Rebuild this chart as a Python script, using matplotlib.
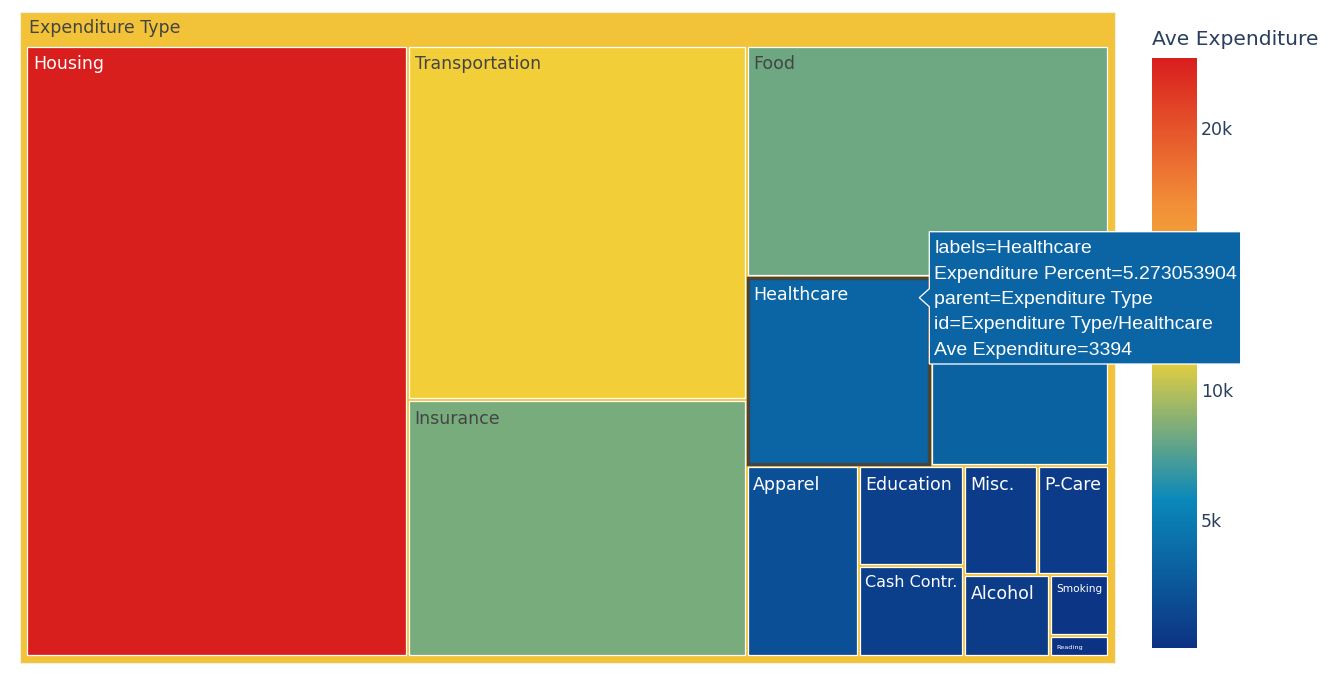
import matplotlib
matplotlib.use("Agg")
import matplotlib.pyplot as plt
from matplotlib.colors import LinearSegmentedColormap, Normalize
from matplotlib.patches import Rectangle, Polygon
from matplotlib.cm import ScalarMappable

# ---------------- data ----------------
root_label = "Expenditure Type"
labels = ["Housing", "Transportation", "Insurance", "Food", "Healthcare", "Entertainment",
          "Apparel", "Education", "Cash Contr.", "Misc.", "P-Care", "Alcohol", "Smoking", "Reading"]
percents = [35.25, 18.15, 13.11, 12.67, 5.273053904, 5.08,
            3.22, 1.58, 1.45, 1.22, 1.17, 1.056, 0.542, 0.182]
ave_exp = [22700, 11682, 8438, 8155, 3394, 3270,
           2073, 1017, 933, 785, 753, 680, 349, 125]
cbar_ticks = [5000, 10000, 15000, 20000]
cbar_ticklabels = ["5k", "10k", "15k", "20k"]
hover_label = "Healthcare"

# ---------------- style / layout ----------------
W, H = 1333, 691
DPI = 100
PX = 72.0 / DPI          # points per pixel
FONT = "DejaVu Sans"
HOVER_FONT = "Liberation Sans"
TXT_DARK = "#444444"
AXIS_TXT = "#2a3f5f"
LABEL_PX = 17.4

ROOT_BOX = (20.0, 12.0, 1114.5, 662.5)       # x0, y0, x1, y1 in pixels (y down)
PAD_L, PAD_T, PAD_R, PAD_B = 5.8, 33.2, 6.0, 6.3
GAP = 3.0

# hover box (mouse position and box extent, pixels)
TIP_X, TIP_Y = 919.3, 297.7
BOX_Y0, BOX_Y1, BOX_X1 = 231.7, 364.0, 1240.7

portland = LinearSegmentedColormap.from_list(
    "portland",
    [(0.0, (12/255, 51/255, 131/255)),
     (0.25, (10/255, 136/255, 186/255)),
     (0.5, (242/255, 211/255, 56/255)),
     (0.75, (242/255, 143/255, 56/255)),
     (1.0, (217/255, 30/255, 30/255))])
norm = Normalize(vmin=min(ave_exp), vmax=max(ave_exp))


def squarify(values, x0, y0, x1, y1, ratio=1.0):
    """d3.treemapSquarify (ratio 1, as plotly uses)."""
    n = len(values)
    rects = [None] * n
    value = float(sum(values))
    i0 = i1 = 0
    while i0 < n:
        dx, dy = x1 - x0, y1 - y0
        sum_v = values[i1]
        i1 += 1
        min_v = max_v = sum_v
        alpha = max(dy / dx, dx / dy) / (value * ratio)
        beta = sum_v * sum_v * alpha
        min_ratio = max(max_v / beta, beta / min_v)
        while i1 < n:
            nv = values[i1]
            s = sum_v + nv
            mn, mx = min(min_v, nv), max(max_v, nv)
            beta = s * s * alpha
            nr = max(mx / beta, beta / mn)
            if nr > min_ratio:
                break
            sum_v, min_v, max_v, min_ratio = s, mn, mx, nr
            i1 += 1
        row = list(range(i0, i1))
        if dx < dy:
            ny = y0 + dy * sum_v / value
            xx = x0
            for j in row:
                w = dx * values[j] / sum_v
                rects[j] = (xx, y0, xx + w, ny)
                xx += w
            y0 = ny
        else:
            nx = x0 + dx * sum_v / value
            yy = y0
            for j in row:
                h = dy * values[j] / sum_v
                rects[j] = (x0, yy, nx, yy + h)
                yy += h
            x0 = nx
        value -= sum_v
        i0 = i1
    return rects


def is_light(rgb):
    r, g, b = [c * 255 for c in rgb[:3]]
    return (r * 299 + g * 587 + b * 114) / 1000.0 >= 128


def inside_box(x, y):
    return (TIP_X + 10) <= x <= BOX_X1 and BOX_Y0 <= y <= BOX_Y1


fig = plt.figure(figsize=(W / DPI, H / DPI), dpi=DPI)
fig.patch.set_facecolor("white")
ax = fig.add_axes([0, 0, 1, 1])
ax.set_xlim(0, W)
ax.set_ylim(H, 0)
ax.axis("off")
renderer = fig.canvas.get_renderer()

# sort by value (plotly default)
order = sorted(range(len(labels)), key=lambda i: -percents[i])
vals = [percents[i] for i in order]

# root
root_val = sum(p * a for p, a in zip(percents, ave_exp)) / sum(percents)
root_col = portland(norm(root_val))
rx0, ry0, rx1, ry1 = ROOT_BOX
ax.add_patch(Rectangle((rx0, ry0), rx1 - rx0, ry1 - ry0, facecolor=root_col,
                       edgecolor="#f5f0e0", lw=0.8, zorder=1))
ax.text(rx0 + 9, ry0 + 21.3, root_label, fontsize=LABEL_PX * PX, family=FONT,
        color=TXT_DARK, va="baseline", ha="left", zorder=5)

rects = squarify(vals, rx0 + PAD_L, ry0 + PAD_T, rx1 - PAD_R, ry1 - PAD_B)


def measure(s, size_px, family):
    t = ax.text(0, 0, s, fontsize=size_px * PX, family=family)
    w = t.get_window_extent(renderer).width
    t.remove()
    return w


hover_rect = None
for k, i in enumerate(order):
    x0, y0, x1, y1 = rects[k]
    x0 += GAP / 2; y0 += GAP / 2; x1 -= GAP / 2; y1 -= GAP / 2
    col = portland(norm(ave_exp[i]))
    ax.add_patch(Rectangle((x0, y0), x1 - x0, y1 - y0, facecolor=col,
                           edgecolor="white", lw=0.9, zorder=2))
    if labels[i] == hover_label:
        hover_rect = (x0, y0, x1, y1, col)
    w, h = x1 - x0, y1 - y0
    tw = measure(labels[i], LABEL_PX, FONT)
    size = min(LABEL_PX, LABEL_PX * (w - 10) / tw, (h - 6) / 1.76)
    tc = TXT_DARK if is_light(col) else "white"
    lx, ly = x0 + 5.5, y0 + 4.8 + size
    # label hidden under the hover box in the reference
    if inside_box(lx, ly):
        continue
    ax.text(lx, ly, labels[i], fontsize=size * PX, family=FONT,
            color=tc, va="baseline", ha="left", zorder=5)

# hover highlight outline
if hover_rect is not None:
    hx0, hy0, hx1, hy1, hcol = hover_rect
    ax.add_patch(Rectangle((hx0, hy0), hx1 - hx0, hy1 - hy0, facecolor="none",
                           edgecolor="#444444", lw=3.3 * PX, zorder=4))

# ---------------- colorbar ----------------
cb_left, cb_top, cb_right, cb_bottom = 1152, 57.6, 1197, 647.8
cax = fig.add_axes([cb_left / W, 1 - cb_bottom / H, (cb_right - cb_left) / W,
                    (cb_bottom - cb_top) / H])
sm = ScalarMappable(norm=norm, cmap=portland)
cb = fig.colorbar(sm, cax=cax, ticks=cbar_ticks)
cb.outline.set_visible(False)
cb.ax.set_yticklabels(cbar_ticklabels)
cax.tick_params(length=0, pad=4 * PX, labelsize=LABEL_PX * PX, labelcolor=AXIS_TXT)
for tl, tv in zip(cax.get_yticklabels(), cbar_ticks):
    tl.set_family(FONT)
    ty = cb_bottom - (cb_bottom - cb_top) * norm(tv)
    if BOX_Y0 <= ty <= BOX_Y1:       # covered by the hover box in the reference
        tl.set_visible(False)
fig.text(1151.5 / W, 1 - 45.3 / H, "Ave Expenditure", fontsize=20.3 * PX, family=FONT,
         color=AXIS_TXT, va="baseline", ha="left")

# ---------------- hover tooltip overlay ----------------
ov = fig.add_axes([0, 0, 1, 1])
ov.set_xlim(0, W)
ov.set_ylim(H, 0)
ov.axis("off")
ov.patch.set_alpha(0)
if hover_rect is not None:
    bx0 = TIP_X + 10
    poly = [(TIP_X, TIP_Y), (bx0, TIP_Y - 9), (bx0, BOX_Y0), (BOX_X1, BOX_Y0), (BOX_X1, BOX_Y1),
            (bx0, BOX_Y1), (bx0, TIP_Y + 9)]
    ov.add_patch(Polygon(poly, closed=True, facecolor=hover_rect[4], edgecolor="white",
                         lw=1.3 * PX, zorder=10))
    hi = labels.index(hover_label)
    lines = [f"labels={labels[hi]}",
             f"Expenditure Percent={percents[hi]}",
             f"parent={root_label}",
             f"id={root_label}/{labels[hi]}",
             f"Ave Expenditure={ave_exp[hi]}"]
    for n, s in enumerate(lines):
        ov.text(bx0 + 5, 253.3 + n * 25.3, s, fontsize=19.5 * PX, family=HOVER_FONT,
                color="white", va="baseline", ha="left", zorder=11)

fig.savefig("out.png", dpi=DPI, facecolor="white")
